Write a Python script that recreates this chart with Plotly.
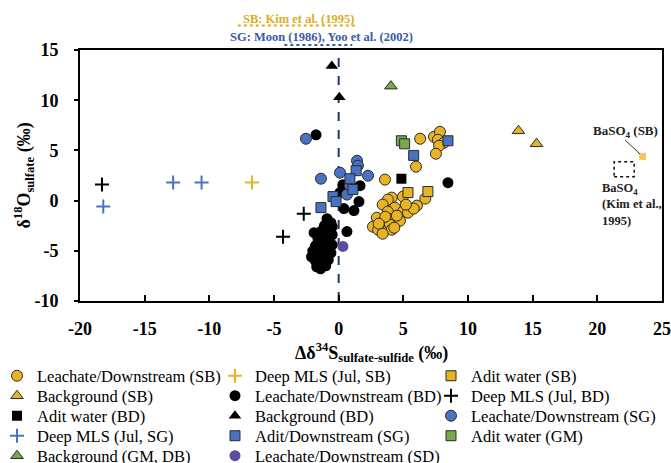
import plotly.graph_objects as go

# ---------------- data ----------------
leach_sb_x = [6.3, 7.37, 7.83, 7.67, 8.14, 7.76, 7.52, 5.98, 3.58,
              4.97, 4.1, 3.8, 3.4, 4.35, 6.05, 6.7, 3.8, 4.97, 5.36, 2.95, 4.2, 4.74,
              3.4, 3.97, 2.65, 3.4, 4.1, 3.05, 3.4, 4.5, 3.6, 5.8, 3.1, 4.3, 5.2]
leach_sb_y = [6.16, 6.36, 6.85, 6.06, 5.76, 5.46, 4.67, 3.38, 2.09,
              0.4, 0.3, 0.1, -0.4, -0.7, -0.5, 0.2, -1.1, -1.1, -1.2, -1.7, -1.8, -2.0,
              -2.2, -2.4, -2.6, -3.1, -2.9, -2.9, -3.3, -1.5, -1.6, -0.8, -2.3, -2.7, -0.4]

deep_sb_x = [-6.7]
deep_sb_y = [1.8]

adit_sb_x = [5.36, 6.9]
adit_sb_y = [0.8, 0.9]

bg_sb_x = [13.9, 15.3]
bg_sb_y = [6.95, 5.66]

leach_bd_x = [-0.9, -0.6, -1.1, -0.7, -1.3, -1.9, -0.5, -1.0, -1.6, -0.8, -1.3, -0.5, -1.8,
              -1.1, -0.7, -2.0, -1.5, -0.9, -2.1, -1.3, -0.8, -1.8, -1.2, -1.6, -1.0, -1.4,
              -1.7, -0.6, -0.5,
              0.33, 1.65, 1.57, 0.41, 1.18, 0.64, 0.1, 0.5, 8.45, -1.75]
leach_bd_y = [-1.8, -2.2, -2.5, -2.9, -3.0, -3.2, -3.4, -3.6, -3.8, -4.0, -4.2, -4.4, -4.5,
              -4.7, -4.9, -5.0, -5.2, -5.4, -5.6, -5.7, -5.9, -6.0, -6.2, -6.4, -6.5, -6.8,
              -6.6, -5.2, -2.6,
              1.59, 1.49, -0.1, -0.79, -0.99, -3.08, 0.8, 1.2, 1.79, 6.55]

deep_bd_x = [-18.3, -2.7, -4.3]
deep_bd_y = [1.6, -1.3, -3.6]

adit_bd_x = [4.85]
adit_bd_y = [2.18]

bg_bd_x = [-0.53, 0.05]
bg_bd_y = [13.4, 10.3]

leach_sg_x = [-2.53, -1.37, 0.1, 1.42, 1.49, 2.27, 0.64, 0.87]
leach_sg_y = [6.16, 2.18, 2.78, 3.97, 3.48, 2.48, 0.6, 1.5]

deep_sg_x = [-12.8, -10.6, -18.2]
deep_sg_y = [1.8, 1.8, -0.6]

adit_sg_x = [5.8, 8.45, 1.35, 0.87, 1.1, -0.44, -0.2, -1.37]
adit_sg_y = [4.5, 5.96, 2.98, 2.18, 1.1, 0.4, -0.1, -0.7]

adit_gm_x = [4.85, 5.1]
adit_gm_y = [5.96, 5.66]

bg_gm_x = [4.04]
bg_gm_y = [11.4]

leach_sd_x = [0.33]
leach_sd_y = [-4.57]

baso4_sb_x = [23.5]
baso4_sb_y = [4.4]

# literature ranges shown above the plot (x extent)
sb_range = [-7.8, 1.35]
sg_range = [-4.2, 1.05]

x_ticks = [-20, -15, -10, -5, 0, 5, 10, 15, 20, 25]
y_ticks = [-10, -5, 0, 5, 10, 15]

# ---------------- style / layout ----------------
YEL = "#E8B424"
BLUE = "#4A72C4"
GREEN = "#77A84C"
PURP = "#5E4A9E"
BLK = "#000000"
EDGE = "#2b2b2b"
SERIF = "Liberation Serif, Times New Roman, serif"
SB_COL = "#D9AE1E"
SG_COL = "#3A5BA6"

W, H = 671, 463
ML, MR, MT, MB = 80, 9, 50, 162
PW, PH = W - ML - MR, H - MT - MB
LEGEND_ROW_PX = [376, 396, 416, 436, 456]
LEGEND_COL_PX = [-3, 215, 431]

fig = go.Figure()
legend_layout = {}


def legend_key(rank):
    return "legend" if rank == 1 else "legend%d" % rank


def add(x, y, name, rank, symbol, color, size=11, edge=True, plus=False):
    if plus:
        marker = dict(symbol="cross-thin", size=10, color=color,
                      line=dict(color=color, width=2))
    else:
        marker = dict(symbol=symbol, size=size, color=color,
                      line=dict(color=EDGE if edge else color, width=1 if edge else 0))
    key = legend_key(rank)
    fig.add_trace(go.Scatter(x=x, y=y, mode="markers", name=name,
                             legend=key, marker=marker, cliponaxis=False))
    row, col = (rank - 1) // 3, (rank - 1) % 3
    legend_layout[key] = dict(
        orientation="h", xref="paper", yref="paper",
        x=(LEGEND_COL_PX[col] - ML) / PW, xanchor="left",
        y=(MT + PH - LEGEND_ROW_PX[row]) / PH, yanchor="middle",
        font=dict(family=SERIF, size=16.5, color="black"),
        itemwidth=30, bgcolor="rgba(0,0,0,0)")


# drawing order (legend placement fixed by rank)
add(leach_bd_x, leach_bd_y, "Leachate/Downstream (BD)", 5, "circle", BLK, edge=False)
add(leach_sb_x, leach_sb_y, "Leachate/Downstream (SB)", 1, "circle", YEL)
add(adit_sb_x, adit_sb_y, "Adit water (SB)", 3, "square", YEL, size=10)
add(bg_sb_x, bg_sb_y, "Background (SB)", 4, "triangle-up", YEL)
add(deep_sb_x, deep_sb_y, "Deep MLS (Jul, SB)", 2, None, YEL, plus=True)
add(deep_bd_x, deep_bd_y, "Deep MLS (Jul, BD)", 6, None, BLK, plus=True)
add(adit_bd_x, adit_bd_y, "Adit water (BD)", 7, "square", BLK, size=10, edge=False)
add(bg_bd_x, bg_bd_y, "Background (BD)", 8, "triangle-up", BLK, edge=False)
add(leach_sg_x, leach_sg_y, "Leachate/Downstream (SG)", 9, "circle", BLUE)
add(deep_sg_x, deep_sg_y, "Deep MLS (Jul, SG)", 10, None, BLUE, plus=True)
add(adit_sg_x, adit_sg_y, "Adit/Downstream (SG)", 11, "square", BLUE, size=10)
add(adit_gm_x, adit_gm_y, "Adit water (GM)", 12, "square", GREEN, size=10)
add(bg_gm_x, bg_gm_y, "Background (GM, DB)", 13, "triangle-up", GREEN)
add(leach_sd_x, leach_sd_y, "Leachate/Downstream (SD)", 14, "circle", PURP, edge=False)
fig.add_trace(go.Scatter(x=baso4_sb_x, y=baso4_sb_y, mode="markers", showlegend=False,
                         marker=dict(symbol="square", size=7, color="#F2C75C")))

# dashed vertical line at x = 0
fig.add_shape(type="line", x0=0, x1=0, y0=-10, y1=15, xref="x", yref="y",
              line=dict(color="#1F3864", width=2, dash="dash"), layer="below")
# dotted BaSO4 (Kim et al.) box
fig.add_shape(type="rect", x0=21.3, x1=22.85, y0=2.38, y1=3.87, xref="x", yref="y",
              line=dict(color="#111111", width=1.5, dash="dot"))
# callout line
fig.add_shape(type="line", x0=22.15, y0=6.03, x1=23.3, y1=4.64, xref="x", yref="y",
              line=dict(color="#333333", width=1))

# range arrows above plot (dotted lines + arrow-head markers)
for (rng, yy_paper, yy_data, col) in [(sb_range, 1.098, 17.45, SB_COL),
                                      (sg_range, 1.02, 15.5, SG_COL)]:
    fig.add_shape(type="line", x0=rng[0], x1=rng[1], y0=yy_paper, y1=yy_paper,
                  xref="x", yref="paper", line=dict(color=col, width=2, dash="dot"))
    fig.add_trace(go.Scatter(x=[rng[0] - 0.25, rng[1] + 0.25], y=[yy_data, yy_data],
                             mode="markers", showlegend=False, cliponaxis=False,
                             hoverinfo="skip",
                             marker=dict(symbol=["triangle-left", "triangle-right"], size=7,
                                         color=col, line=dict(width=0))))

fig.add_annotation(x=-3.1, y=1.122, xref="x", yref="paper", yanchor="middle",
                   text="<b>SB: Kim et al. (1995)</b>",
                   showarrow=False, font=dict(family=SERIF, size=12.5, color=SB_COL))
fig.add_annotation(x=-1.35, y=1.052, xref="x", yref="paper", yanchor="middle",
                   text="<b>SG: Moon (1986), Yoo et al. (2002)</b>",
                   showarrow=False, font=dict(family=SERIF, size=12.5, color=SG_COL))

fig.add_annotation(x=24.85, y=6.9, xref="x", yref="y", xanchor="right", yanchor="middle",
                   text="<b>BaSO<sub>4</sub> (SB)</b>", showarrow=False,
                   font=dict(family=SERIF, size=13, color="#222222"))
fig.add_annotation(x=20.2, y=-0.35, xref="x", yref="y", xanchor="left", yanchor="middle",
                   align="left",
                   text="<b>BaSO<sub>4</sub><br>(Kim et al.,<br>1995)</b>", showarrow=False,
                   font=dict(family=SERIF, size=12.5, color="#222222"))

# axis titles (placed explicitly)
fig.add_annotation(x=0.5, y=(MT + PH - 352) / PH, xref="paper", yref="paper",
                   xanchor="center", yanchor="middle", showarrow=False,
                   text="<b>Δδ<sup>34</sup>S<sub>sulfate-sulfide</sub> (‰)</b>",
                   font=dict(family=SERIF, size=18, color="black"))
fig.add_annotation(x=(24 - ML) / PW, y=0.5, xref="paper", yref="paper",
                   xanchor="center", yanchor="middle", showarrow=False, textangle=-90,
                   text="<b>δ<sup>18</sup>O<sub>sulfate</sub> (‰)</b>",
                   font=dict(family=SERIF, size=18, color="black"))

axis_common = dict(showline=True, linecolor="black", linewidth=2, mirror=True,
                   showgrid=False, zeroline=False,
                   tickfont=dict(family=SERIF, size=18, color="black", weight="bold"),
                   tickcolor="black", tickwidth=2)

fig.update_xaxes(range=[-20, 25], tickvals=x_ticks, ticktext=[str(v) for v in x_ticks],
                 ticks="inside", ticklen=6, ticklabelstandoff=10, **axis_common)
fig.update_yaxes(range=[-10, 15], tickvals=y_ticks, ticktext=[str(v) for v in y_ticks],
                 ticks="outside", ticklen=4, ticklabelstandoff=12, **axis_common)

fig.update_layout(
    width=W, height=H,
    margin=dict(l=ML, r=MR, t=MT, b=MB, autoexpand=False),
    plot_bgcolor="white", paper_bgcolor="white",
    font=dict(family=SERIF, color="black"),
    **legend_layout,
)

fig.write_html("out.html", post_script="document.body.style.margin='0';",
               config={"displayModeBar": False})
